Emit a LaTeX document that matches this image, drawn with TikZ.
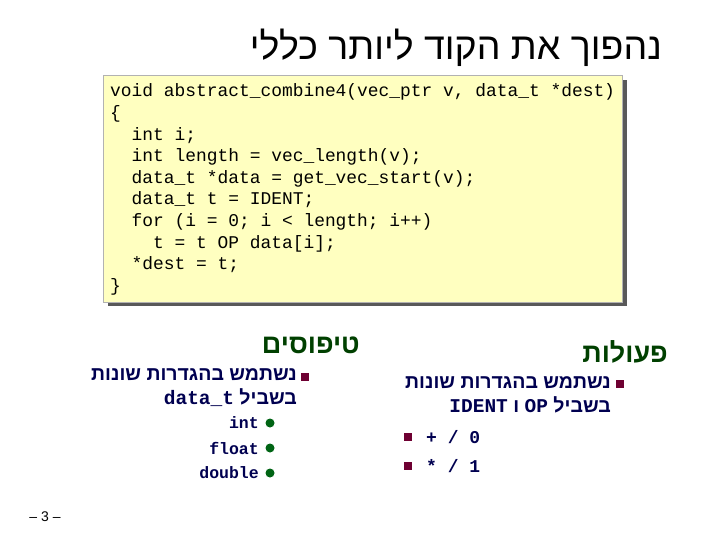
\documentclass[tikz,border=0pt]{standalone}
\usepackage{fontspec}
\setmainfont{Liberation Sans}
\setmonofont{Liberation Mono}
\newfontfamily\hebfont[Script=Hebrew]{Liberation Sans}
\TeXXeTstate=1
\usetikzlibrary{positioning}
\definecolor{codebg}{RGB}{255,255,192}
\definecolor{headgreen}{RGB}{0,64,0}
\definecolor{itemblue}{RGB}{0,0,80}
\definecolor{sqred}{RGB}{110,0,50}
\definecolor{dotgreen}{RGB}{0,100,20}
\tikzset{
  heading/.style={anchor=east,text=headgreen,font=\hebfont\bfseries\fontsize{27}{30}\selectfont,inner sep=0},
  item/.style={anchor=east,text=itemblue,align=right,font=\hebfont\bfseries\fontsize{19.5}{24}\selectfont,inner sep=0},
  sqbullet/.style={fill=sqred,minimum size=8.5pt,inner sep=0},
  dotbullet/.style={circle,fill=dotgreen,minimum size=9pt,inner sep=0},
  codeline/.style={anchor=base west,font=\ttfamily\fontsize{17.9}{21.6}\selectfont,inner sep=0},
  optext/.style={anchor=west,text=itemblue,font=\ttfamily\bfseries\fontsize{18}{20}\selectfont,inner sep=0}
}
\begin{document}
\begin{tikzpicture}[x=1pt,y=-1pt]
\useasboundingbox (0,0) rectangle (720,540);

% Title
\node[anchor=base east,font=\hebfont\fontsize{37.5}{40}\selectfont,inner sep=0] (title) at (662,60) {\beginR נהפוך את הקוד ליותר כללי\endR};

% Code box with shadow
\fill[gray!70!black] (108,80) rectangle (627,306);
\fill[codebg] (103,75) rectangle (622,302);
\draw[gray!60] (103,75) rectangle (622,302);
\foreach \txt [count=\i from 0] in {%
  {void abstract\_combine4(vec\_ptr v, data\_t *dest)},
  {\{},
  {\ \ int i;},
  {\ \ int length = vec\_length(v);},
  {\ \ data\_t *data = get\_vec\_start(v);},
  {\ \ data\_t t = IDENT;},
  {\ \ for (i = 0; i < length; i++)},
  {\ \ \ \ t = t OP data[i];},
  {\ \ *dest = t;},
  {\}}}
  \node[codeline] (code\i) at (110,97+21.6*\i) {\txt};

% Left column: types
\node[heading] (types) at (360,345) {\beginR טיפוסים\endR};
\node[sqbullet] (tsq) at (305,377) {};
\node[item] (titem) at (297,388) {\beginR נשתמש בהגדרות שונות\endR\\
  \beginR בשביל \beginL\texttt{data\_t}\endL\endR};
\foreach \t [count=\i from 0] in {int,float,double} {
  \node[dotbullet] (dot\i) at (270,423+25*\i) {};
  \node[anchor=east,text=itemblue,font=\ttfamily\bfseries\fontsize{16.5}{18}\selectfont,inner sep=0] (type\i) at (259,423+25*\i) {\t};
}

% Right column: operations
\node[heading] (ops) at (668,352) {\beginR פעולות\endR};
\node[sqbullet] (osq) at (620,384) {};
\node[item] (oitem) at (611,395) {\beginR נשתמש בהגדרות שונות\endR\\
  \beginR בשביל \beginL\texttt{OP}\endL{} ו \beginL\texttt{IDENT}\endL\endR};
\node[sqbullet] (sq1) at (408,437) {};
\node[optext] (op1) at (426,437) {+ / 0};
\node[sqbullet] (sq2) at (408,466) {};
\node[optext] (op2) at (426,466) {* / 1};

% Page number
\node[font=\fontsize{14}{16}\selectfont] (page) at (45,517) {– 3 –};
\end{tikzpicture}
\end{document}
